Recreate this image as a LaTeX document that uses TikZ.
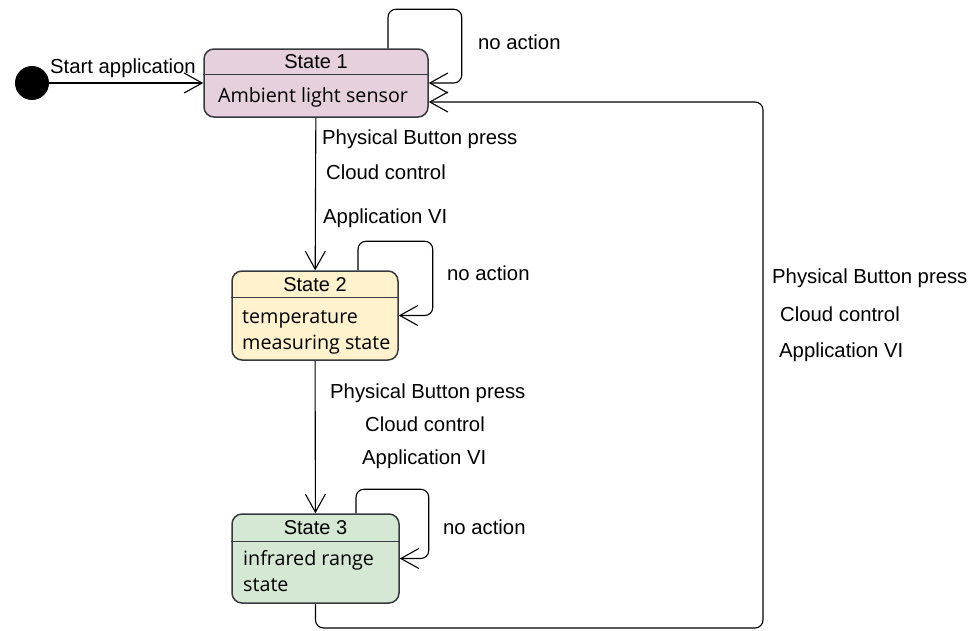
\documentclass[tikz,border=0pt]{standalone}
\usepackage{fontspec}
\setmainfont{Liberation Sans}
\newfontfamily\bodyfont{Open Sans}
\usetikzlibrary{arrows.meta}

\definecolor{statepink}{HTML}{E6D0DE}
\definecolor{stateyellow}{HTML}{FFF2CC}
\definecolor{stategreen}{HTML}{D5E8D4}
\definecolor{stateline}{HTML}{36393D}

\tikzset{
    state/.style={draw=stateline, line width=1.5pt, rounded corners=10pt, inner sep=0pt},
    divider/.style={draw=stateline, line width=1.5pt},
    trans/.style={draw=black, line width=1.1pt, rounded corners=8pt, -{Straight Barb[length=18pt,width=20pt]}},
    lbl/.style={inner sep=0pt, anchor=west, font=\fontsize{20.3}{24}\selectfont},
    stitle/.style={inner sep=0pt, font=\fontsize{20}{24}\selectfont},
    sbody/.style={inner sep=0pt, align=left, font=\bodyfont\fontsize{19.7}{26}\selectfont}
}

\begin{document}
\begin{tikzpicture}[x=1pt, y=-1pt]
        \useasboundingbox (0,0) rectangle (978,630);

        % initial state
        \node[circle, fill=black, minimum size=34pt, inner sep=0pt] (start) at (32,83) {};

        % states
        \node[state, fill=statepink, minimum width=224pt, minimum height=68pt] (s1) at (316,83) {};
        \node[state, fill=stateyellow, minimum width=166pt, minimum height=89pt] (s2) at (315,315.5) {};
        \node[state, fill=stategreen, minimum width=167pt, minimum height=89pt] (s3) at (315.5,558.5) {};

        \draw[divider] ([yshift=-26pt]s1.north west) -- ([yshift=-26pt]s1.north east);
        \draw[divider] ([yshift=-27pt]s2.north west) -- ([yshift=-27pt]s2.north east);
        \draw[divider] ([yshift=-28pt]s3.north west) -- ([yshift=-28pt]s3.north east);

        \node[stitle] (s1title) at ([yshift=-13pt]s1.north) {State 1};
        \node[stitle] (s2title) at ([yshift=-14pt]s2.north) {State 2};
        \node[stitle] (s3title) at ([yshift=-14pt]s3.north) {State 3};

        \node[sbody] (s1body) at (313,97) {Ambient light sensor};
        \node[sbody, anchor=west] (s2body) at (242,332) {temperature\\measuring state};
        \node[sbody, anchor=west] (s3body) at (243,571) {infrared range\\state};

        % transitions
        \draw[trans] (start) -- (s1);
        \draw[trans] (s1) -- (s2);
        \draw[trans] (s2) -- (s3);
        \draw[trans] ([xshift=72pt]s1.north) -- ++(0,-39) -| ([xshift=33pt]s1.east) -- (s1.east);
        \draw[trans] ([xshift=43pt]s2.north) -- ++(0,-29) -| ([xshift=34pt]s2.east) -- (s2.east);
        \draw[trans] ([xshift=40.5pt]s3.north) -- ++(0,-24) -| ([xshift=29pt]s3.east) -- (s3.east);
        \draw[trans] (s3.south) |- (763,628) |- ([yshift=-19pt]s1.east);

        % labels
        \node[lbl] (lstart) at (50,68) {Start application};
        \node[lbl] (lloop1) at (478,42) {no action};
        \node[lbl] (lloop2) at (447,273) {no action};
        \node[lbl] (lloop3) at (443,527) {no action};

        \node[lbl] (la1) at (322,139) {Physical Button press};
        \node[lbl] (la2) at (326,172) {Cloud control};
        \node[lbl] (la3) at (323,218) {Application VI};

        \node[lbl] (lb1) at (330,393) {Physical Button press};
        \node[lbl] (lb2) at (365,424) {Cloud control};
        \node[lbl] (lb3) at (362,459) {Application VI};

        \node[lbl] (lc1) at (772,278) {Physical Button press};
        \node[lbl] (lc2) at (780,314) {Cloud control};
        \node[lbl] (lc3) at (779,352) {Application VI};
    \end{tikzpicture}
\end{document}
